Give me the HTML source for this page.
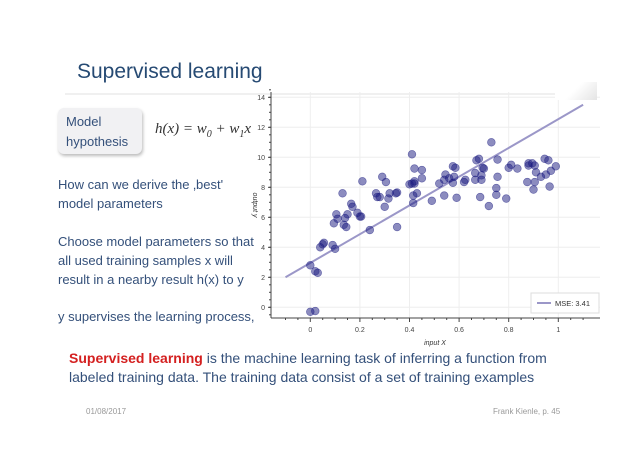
<!DOCTYPE html>
<html><head><meta charset="utf-8"><style>
body{margin:0;width:638px;height:451px;background:#fff;position:relative;overflow:hidden;font-family:"Liberation Sans",sans-serif}
.t{position:absolute;white-space:nowrap;color:#34507a}
</style></head><body>
<div class="t" style="left:77px;top:60px;font-size:21px;color:#264a73">Supervised learning</div>
<div style="position:absolute;left:65px;top:93px;width:530px;height:2px;background:#f0f0f0"></div>
<div style="position:absolute;left:58px;top:108px;width:84px;height:46px;background:#f1f1f3;border-radius:6px;box-shadow:1px 2px 3px #bbb"></div>
<div class="t" style="left:66px;top:112px;font-size:13px;line-height:20px">Model<br>hypothesis</div>
<div class="t" style="left:155px;top:121px;font-size:15px;font-family:'Liberation Serif',serif;font-style:italic;color:#333">h(x) = w<sub style="font-size:10px">0</sub> + w<sub style="font-size:10px">1</sub>x</div>
<div class="t" style="left:58px;top:175px;font-size:13px;line-height:19px">How can we derive the ‚best'<br>model parameters</div>
<div class="t" style="left:58px;top:232px;font-size:13px;line-height:19px">Choose model parameters so that<br>all used training samples x will<br>result in a nearby result h(x) to y</div>
<div class="t" style="left:58px;top:309px;font-size:13px">y supervises the learning process,</div>
<div class="t" style="left:69px;top:349px;font-size:14px;line-height:19px"><b style="color:#d42020">Supervised learning</b> is the machine learning task of inferring a function from<br>labeled training data. The training data consist of a set of training examples</div>
<div class="t" style="left:86px;top:407px;font-size:8px;color:#999">01/08/2017</div>
<div class="t" style="left:493px;top:407px;font-size:8px;color:#999">Frank Kienle, p. 45</div>
<svg id="chart" width="638" height="451" style="position:absolute;left:0;top:0" xmlns="http://www.w3.org/2000/svg"></svg>
<script>
const xs=[0,0.02,0.03,0,0.02,0.04,0.05,0.055,0.09,0.1,0.095,0.105,0.11,0.14,0.135,0.145,0.15,0.13,0.165,0.17,0.19,0.2,0.205,0.21,0.24,0.265,0.27,0.28,0.29,0.3,0.305,0.315,0.32,0.345,0.35,0.35,0.4,0.41,0.41,0.415,0.415,0.42,0.42,0.42,0.43,0.45,0.45,0.49,0.52,0.54,0.54,0.545,0.56,0.575,0.575,0.58,0.585,0.59,0.62,0.625,0.665,0.665,0.67,0.68,0.685,0.69,0.69,0.695,0.7,0.72,0.73,0.75,0.75,0.755,0.755,0.79,0.8,0.81,0.835,0.875,0.88,0.88,0.895,0.9,0.905,0.905,0.91,0.93,0.945,0.95,0.96,0.965,0.97,0.99];
const ys=[2.8,2.4,2.3,-0.3,-0.25,4.0,4.2,4.3,4.15,3.9,5.6,6.2,5.9,5.95,5.5,5.35,6.2,7.6,6.9,6.7,6.3,6.05,6.05,8.4,5.15,7.6,7.35,7.35,8.7,6.7,8.35,7.25,7.6,7.6,5.35,7.65,8.2,8.25,10.2,6.95,7.45,8.4,9.25,8.25,7.6,8.6,9.15,7.1,8.25,8.5,7.45,8.85,8.6,8.3,9.4,8.7,9.3,7.3,8.35,8.5,8.95,8.5,9.8,9.9,7.35,8.8,8.5,9.3,9.25,6.75,11.0,7.5,7.95,8.7,9.85,7.25,9.3,9.5,9.25,8.35,9.45,9.6,9.6,7.85,8.35,9.45,9.0,8.7,9.9,8.85,9.8,8.05,9.1,9.4];
const lineX=[-0.1,1.1];
const lineY=[2.0,13.5];
const xTicks=[0,0.2,0.4,0.6,0.8,1];
const xTickLabels=["0","0.2","0.4","0.6","0.8","1"];
const yTicks=[0,2,4,6,8,10,12,14];
const mseLabel="MSE: 3.41";
const svg=document.getElementById('chart');const NS="http://www.w3.org/2000/svg";
const X=v=>310.3+v*248, Y=v=>307.3-v*15;
const L=271,R=600,T=92,B=318;
function el(t,a,p){const e=document.createElementNS(NS,t);for(const k in a)e.setAttribute(k,a[k]);(p||svg).appendChild(e);return e;}
xTicks.forEach((v,i)=>{const g=el('line',{x1:X(v),x2:X(v),y1:T,y2:B,stroke:'#eee'});
const t=el('text',{x:X(v),y:B+14,'font-size':7,'text-anchor':'middle',fill:'#444','font-family':'Liberation Sans'});t.textContent=xTickLabels[i];});
yTicks.forEach(v=>{const g=el('line',{x1:L,x2:R,y1:Y(v),y2:Y(v),stroke:'#eee'});
const t=el('text',{x:L-6,y:Y(v)+2.5,'font-size':7,'text-anchor':'end',fill:'#444','font-family':'Liberation Sans'});t.textContent=v;
el('line',{x1:L-3,x2:L,y1:Y(v),y2:Y(v),stroke:'#444'});});
for(let v=-0.1;v<=1.12;v+=0.05)el('line',{x1:X(v),x2:X(v),y1:B,y2:B+(Math.abs(v*5-Math.round(v*5))<0.01?4:2),stroke:'#444'});
for(let v=-0.5;v<=14.5;v+=0.5)el('line',{x1:L-2,x2:L,y1:Y(v),y2:Y(v),stroke:'#444'});
const ax=el('line',{x1:L,x2:L,y1:T,y2:B,stroke:'#444'});
const bx=el('line',{x1:L,x2:R,y1:B,y2:B,stroke:'#444'});
const fl=el('line',{x1:X(lineX[0]),y1:Y(lineY[0]),x2:X(lineX[1]),y2:Y(lineY[1]),stroke:'#9b97c8','stroke-width':2});

xs.forEach((x,i)=>{const c=el('circle',{cx:X(x),cy:Y(ys[i]),r:3.9,fill:'#1a1a80','fill-opacity':0.5,stroke:'#1a1a80','stroke-opacity':0.55,'stroke-width':0.6});
});
const xl=el('text',{x:435,y:345,'font-size':7,'font-style':'italic','text-anchor':'middle',fill:'#333','font-family':'Liberation Sans'});xl.textContent='input X';
const yl=el('text',{x:0,y:0,'font-size':7,'font-style':'italic','text-anchor':'middle',fill:'#333','font-family':'Liberation Sans',transform:'translate(253,205) rotate(90)'});yl.textContent='output y';
const lg=el('rect',{x:531,y:293,width:68,height:20,fill:'#fff',stroke:'#ddd'});
el('line',{x1:537,x2:551,y1:303,y2:303,stroke:'#9b97c8','stroke-width':2});
const lt=el('text',{x:555,y:306,'font-size':7.5,fill:'#333','font-family':'Liberation Sans'});lt.textContent=mseLabel;
</script>
<div style="position:absolute;left:555px;top:82px;width:42px;height:18px;background:linear-gradient(135deg,#fff 45%,#e4e4e4)"></div>
</body></html>
